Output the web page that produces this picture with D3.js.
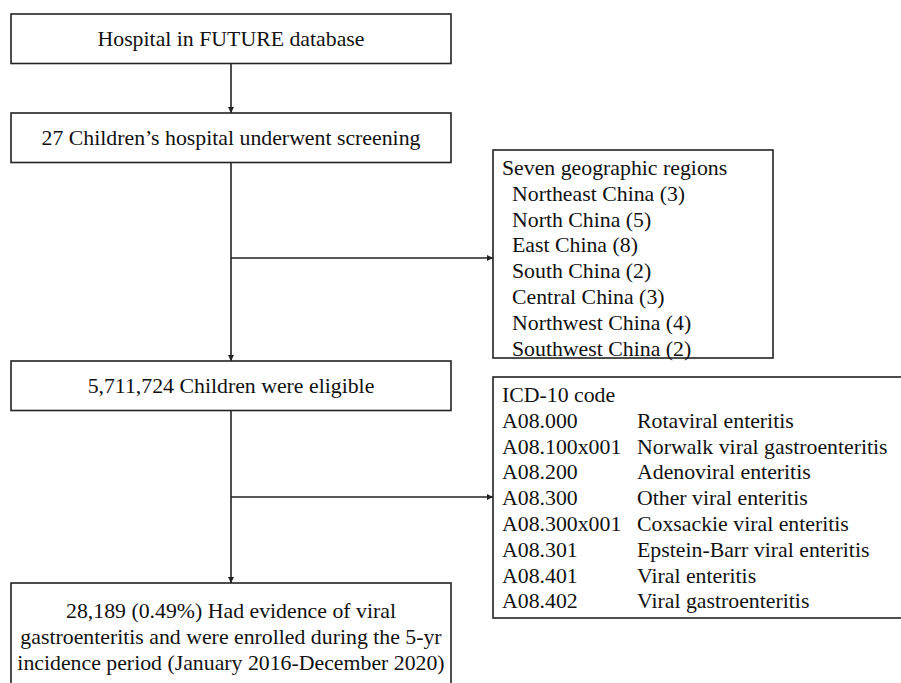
<!DOCTYPE html>
<html>
<head>
<meta charset="utf-8">
<script src="https://cdn.jsdelivr.net/npm/d3@7"></script>
<style>
  body { margin: 0; background: #fff; }
  text { font-family: "Liberation Serif", "Times New Roman", serif; fill: #111; }
</style>
</head>
<body>
<div id="graph"></div>
<script>
var width = 901, height = 683

// main flow boxes, top to bottom
var mainSteps = [
  ['Hospital in FUTURE database'],
  ['27 Children\u2019s hospital underwent screening'],
  ['5,711,724 Children were eligible'],
  ['28,189 (0.49%) Had evidence of viral', 'gastroenteritis and were enrolled during the 5-yr', 'incidence period (January 2016-December 2020)']
]
var stepTops = [14, 113, 361, 583]

// side box 1
var regionTitle = 'Seven geographic regions'
var regions = ['Northeast China', 'North China', 'East China', 'South China', 'Central China', 'Northwest China', 'Southwest China']
var regionCounts = [3, 5, 8, 2, 3, 4, 2]

// side box 2
var icdTitle = 'ICD-10 code'
var icdCodes = ['A08.000', 'A08.100x001', 'A08.200', 'A08.300', 'A08.300x001', 'A08.301', 'A08.401', 'A08.402']
var icdNames = ['Rotaviral enteritis', 'Norwalk viral gastroenteritis', 'Adenoviral enteritis', 'Other viral enteritis',
  'Coxsackie viral enteritis', 'Epstein-Barr viral enteritis', 'Viral enteritis', 'Viral gastroenteritis']

var fs = 21.8, lineH = 25.8
var colX = d3.scaleLinear().domain([0, 1]).range([11, 451])
var cx = colX(0.5)
var boxH = 49.5
var ink = '#222'

var svg = d3.select('#graph').html('').append('svg')
    .attr('width', width).attr('height', height)

svg.append('defs').append('marker')
    .attr('id', 'ah').attr('viewBox', '0 0 10 10')
    .attr('refX', 10).attr('refY', 5)
    .attr('markerWidth', 6).attr('markerHeight', 6)
    .attr('markerUnits', 'userSpaceOnUse')
    .attr('orient', 'auto')
  .append('path').attr('d', 'M0,0L10,5L0,10z').attr('fill', ink)

var steps = mainSteps.map(function(lines, i){
  return {lines: lines, y: stepTops[i], h: i < 3 ? boxH : 130}
})

// main boxes
var stepSel = svg.append('g').selectAll('g').data(steps).enter().append('g')

stepSel.append('rect')
    .attr('x', colX(0)).attr('y', d => d.y)
    .attr('width', colX(1) - colX(0)).attr('height', d => d.h)
    .attr('fill', 'none').attr('stroke', ink).attr('stroke-width', 1.6)

stepSel.each(function(d){
  var n = d.lines.length
  var first = n == 1 ? d.y + boxH / 2 + fs * 0.34 : d.y + 35
  d3.select(this).selectAll('text').data(d.lines).enter().append('text')
      .attr('x', cx).attr('y', (t, j) => first + j * lineH)
      .attr('text-anchor', 'middle').attr('font-size', fs)
      .text(t => t)
})

// vertical arrows between main boxes
var arrows = d3.pairs(steps)
svg.append('g').selectAll('line').data(arrows).enter().append('line')
    .attr('x1', cx).attr('x2', cx)
    .attr('y1', d => d[0].y + d[0].h).attr('y2', d => d[1].y)
    .attr('stroke', ink).attr('stroke-width', 1.6)
    .attr('marker-end', 'url(#ah)')

// side boxes
var sideX = 493
var side = [
  {branch: 258, top: 150, bottom: 358, right: 773},
  {branch: 497, top: 377, bottom: 618, right: 905}
]
svg.append('g').selectAll('line').data(side).enter().append('line')
    .attr('x1', cx).attr('x2', sideX)
    .attr('y1', d => d.branch).attr('y2', d => d.branch)
    .attr('stroke', ink).attr('stroke-width', 1.6)
    .attr('marker-end', 'url(#ah)')

svg.append('g').selectAll('rect').data(side).enter().append('rect')
    .attr('x', sideX).attr('y', d => d.top)
    .attr('width', d => d.right - sideX).attr('height', d => d.bottom - d.top)
    .attr('fill', 'none').attr('stroke', ink).attr('stroke-width', 1.6)

// region list
var regY = d3.scaleLinear().domain([0, 1]).range([175, 175 + lineH])
var reg = svg.append('g')
reg.append('text').attr('x', 502).attr('y', regY(0)).attr('font-size', fs).text(regionTitle)
reg.selectAll('text.r').data(regions).enter().append('text')
    .attr('class', 'r')
    .attr('x', 512).attr('y', (d, i) => regY(i + 1))
    .attr('font-size', fs)
    .text((d, i) => d + ' (' + regionCounts[i] + ')')

// icd list
var icdY = d3.scaleLinear().domain([0, 1]).range([402, 402 + lineH])
var icd = svg.append('g')
icd.append('text').attr('x', 502).attr('y', icdY(0)).attr('font-size', fs).text(icdTitle)
icd.selectAll('text.c').data(icdCodes).enter().append('text')
    .attr('class', 'c')
    .attr('x', 502).attr('y', (d, i) => icdY(i + 1))
    .attr('font-size', fs).text(d => d)
icd.selectAll('text.n').data(icdNames).enter().append('text')
    .attr('class', 'n')
    .attr('x', 637).attr('y', (d, i) => icdY(i + 1))
    .attr('font-size', fs).text(d => d)
</script>
</body>
</html>
